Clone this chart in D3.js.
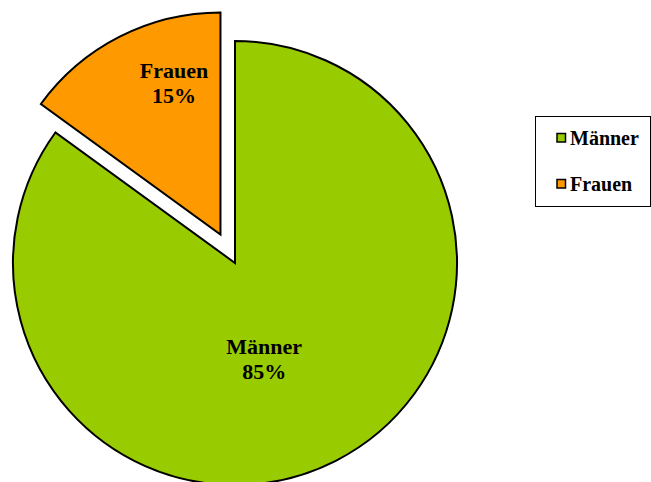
<!DOCTYPE html>
<html>
<head>
<meta charset="utf-8">
<script src="https://cdn.jsdelivr.net/npm/d3@7"></script>
<style>
  html, body { margin: 0; padding: 0; background: #fff; }
  svg { display: block; }
  text { font-family: "Liberation Serif", "Times New Roman", serif; font-weight: bold; fill: #000; }
</style>
</head>
<body>
<svg id="chart" width="651" height="482"></svg>
<script>
// Share of participants by gender
const categories = ["Männer", "Frauen"];
const values = [85, 15];
const colors = ["#99cc00", "#ff9900"];
const explode = [0, 32];

const svg = d3.select("#chart");
const cx = 235, cy = 263, radius = 222;

const pie = d3.pie().sort(null).value(d => d.value);
const arcs = pie(categories.map((c, i) => ({ name: c, value: values[i], color: colors[i], offset: explode[i] })));

const arc = d3.arc().innerRadius(0).outerRadius(radius);

const g = svg.append("g").attr("transform", `translate(${cx},${cy})`);

const slices = g.selectAll("g.slice").data(arcs).join("g")
  .attr("class", "slice")
  .attr("transform", d => {
    const mid = (d.startAngle + d.endAngle) / 2;
    return `translate(${Math.sin(mid) * d.data.offset},${-Math.cos(mid) * d.data.offset})`;
  });

slices.append("path")
  .attr("d", arc)
  .attr("fill", d => d.data.color)
  .attr("stroke", "#000")
  .attr("stroke-width", 2)
  .attr("stroke-linejoin", "miter");

// Labels sit part way out, turned a little clockwise from each bisector
const labelPos = [0.45, 0.715];
const labelTurn = 10 * Math.PI / 180;
slices.each(function (d, i) {
  const a = (d.startAngle + d.endAngle) / 2 + labelTurn;
  const r = radius * labelPos[i];
  const x = Math.sin(a) * r, y = -Math.cos(a) * r;
  const t = d3.select(this).append("text")
    .attr("text-anchor", "middle")
    .attr("font-size", 22);
  t.append("tspan").attr("x", x).attr("y", y - 5).text(d.data.name);
  t.append("tspan").attr("x", x).attr("y", y + 20).text(d3.format(".0f")(d.data.value) + "%");
});

// Legend
const legend = svg.append("g").attr("transform", "translate(535.5,116.5)");
legend.append("rect")
  .attr("width", 115).attr("height", 90)
  .attr("fill", "#fff").attr("stroke", "#000").attr("stroke-width", 1);

const items = legend.selectAll("g.item").data(categories).join("g")
  .attr("class", "item")
  .attr("transform", (d, i) => `translate(21.5,${17 + i * 46})`);
items.append("rect")
  .attr("width", 8.5).attr("height", 8.5)
  .attr("fill", (d, i) => colors[i])
  .attr("stroke", "#000").attr("stroke-width", 1.5);
items.append("text")
  .attr("x", 13).attr("y", 11)
  .attr("font-size", 20)
  .text(d => d);
</script>
</body>
</html>
